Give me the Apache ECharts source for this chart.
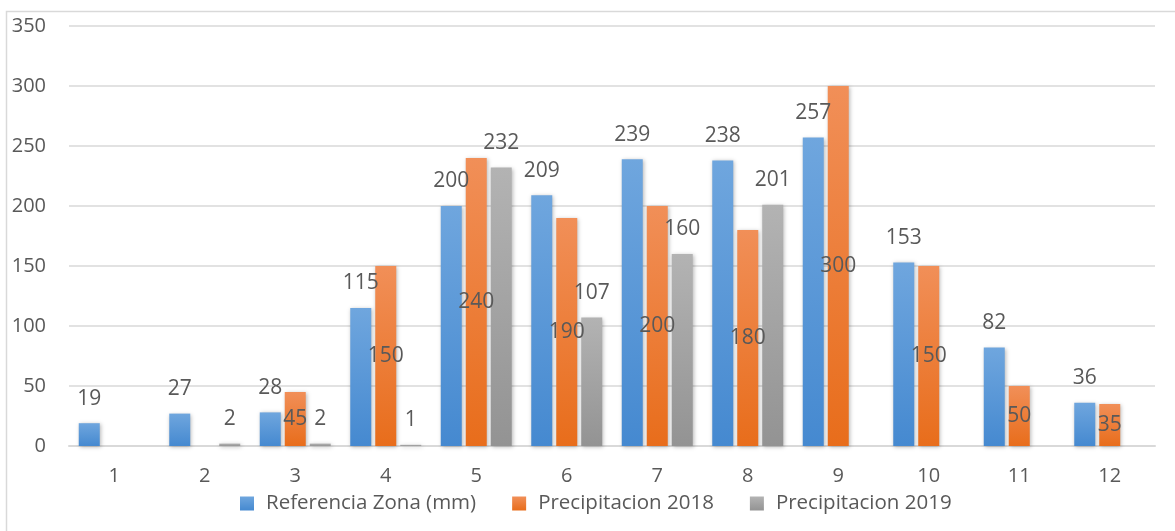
<!DOCTYPE html>
<html>
<head>
<meta charset="utf-8">
<script src="https://cdn.jsdelivr.net/npm/echarts@6/dist/echarts.min.js"></script>
<style>
  html, body { margin: 0; padding: 0; background: #ffffff; }
  #chart { width: 1175px; height: 531px; }
</style>
</head>
<body>
<div id="chart"></div>
<script>
// Months 1..12
const categories = ['1', '2', '3', '4', '5', '6', '7', '8', '9', '10', '11', '12'];
// Monthly precipitation (mm)
const referenciaZona = [19, 27, 28, 115, 200, 209, 239, 238, 257, 153, 82, 36];
const precip2018 = [null, null, 45, 150, 240, 190, 200, 180, 300, 150, 50, 35];
const precip2019 = [null, 2, 2, 1, 232, 107, 160, 201, null, null, null, null];
const yTicks = { min: 0, max: 350, interval: 50 };

const FONT = 'Open Sans';
const TEXT = '#595959';

function grad(top, bottom) {
  return new echarts.graphic.LinearGradient(0, 0, 0, 1, [
    { offset: 0, color: top },
    { offset: 1, color: bottom }
  ]);
}

const shadow = {
  shadowColor: 'rgba(0,0,0,0.28)',
  shadowBlur: 4,
  shadowOffsetX: 1,
  shadowOffsetY: 1
};

const labelBase = {
  show: true,
  color: TEXT,
  fontFamily: FONT,
  fontSize: 21
};

const chart = echarts.init(document.getElementById('chart'), null, { renderer: 'canvas' });

chart.setOption({
  animation: false,
  backgroundColor: '#ffffff',
  textStyle: { fontFamily: FONT, color: TEXT },
  graphic: [{
    type: 'rect',
    shape: { x: 6.5, y: 11.5, width: 1300, height: 700 },
    style: { fill: null, stroke: '#d9d9d9', lineWidth: 1.5 },
    silent: true,
    z: -10
  }],
  grid: { left: 69, right: 20, top: 26, bottom: 85, containLabel: false },
  legend: {
    left: 240,
    top: 493,
    padding: 0,
    itemWidth: 14,
    itemHeight: 14,
    itemGap: 36,
    icon: 'rect',
    textStyle: { fontFamily: FONT, fontSize: 20.5, color: TEXT, padding: [0, 0, 0, 7] },
    data: ['Referencia Zona (mm)', 'Precipitacion 2018', 'Precipitacion 2019']
  },
  xAxis: {
    type: 'category',
    data: categories,
    axisLine: { show: true, lineStyle: { color: '#d9d9d9', width: 2 } },
    axisTick: { show: false },
    axisLabel: { color: TEXT, fontFamily: FONT, fontSize: 20, margin: 20 }
  },
  yAxis: {
    type: 'value',
    min: yTicks.min,
    max: yTicks.max,
    interval: yTicks.interval,
    axisLine: { show: false },
    axisTick: { show: false },
    splitLine: { lineStyle: { color: '#d9d9d9', width: 1.5 } },
    axisLabel: { color: TEXT, fontFamily: FONT, fontSize: 20, margin: 23 }
  },
  series: [
    {
      name: 'Referencia Zona (mm)',
      type: 'bar',
      data: referenciaZona,
      barWidth: 21,
      barGap: '19%',
      itemStyle: Object.assign({ color: grad('#6fa6de', '#4589d0') }, shadow),
      label: Object.assign({ position: 'top', distance: 14 }, labelBase)
    },
    {
      name: 'Precipitacion 2018',
      type: 'bar',
      data: precip2018,
      barWidth: 21,
      barGap: '19%',
      itemStyle: Object.assign({ color: grad('#f18f58', '#e86d1b') }, shadow),
      label: Object.assign({ position: 'inside' }, labelBase)
    },
    {
      name: 'Precipitacion 2019',
      type: 'bar',
      data: precip2019,
      barWidth: 21,
      barGap: '19%',
      itemStyle: Object.assign({ color: grad('#b3b3b3', '#939393') }, shadow),
      label: Object.assign({ position: 'top', distance: 14 }, labelBase)
    }
  ]
});
</script>
</body>
</html>
